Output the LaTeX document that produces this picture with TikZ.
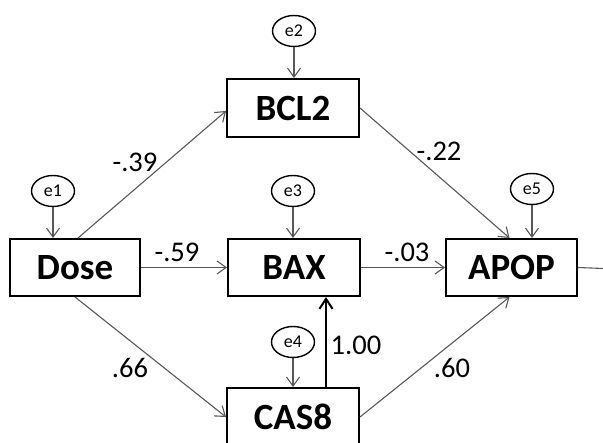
\documentclass[tikz,border=0pt]{standalone}
\usepackage{fontspec}
\setmainfont{Carlito}
\usetikzlibrary{arrows.meta,calc,shapes.geometric}
\definecolor{pathgray}{HTML}{585858}
\begin{document}
\begin{tikzpicture}[x=1pt,y=-1pt,
  varbox/.style={draw=black,line width=2pt,minimum width=131pt,minimum height=57pt,inner sep=0pt,font=\fontsize{37}{42}\selectfont\bfseries},
  errnode/.style={draw=black,line width=1.4pt,ellipse,minimum width=43pt,minimum height=31pt,inner sep=0pt,font=\fontsize{18}{21}\selectfont},
  edgearrow/.style={draw=pathgray,line width=1.1pt,-{Straight Barb[length=9pt,width=13pt]}},
  edgeplain/.style={draw=pathgray,line width=1.1pt},
  thickarrow/.style={draw=black,line width=2pt,-{Straight Barb[length=10pt,width=13pt]}},
  coeflabel/.style={font=\fontsize{28.5}{31}\selectfont,anchor=base,inner sep=0pt},
]
\useasboundingbox (0,0) rectangle (603,443);

% variable boxes
\node[varbox,minimum width=130pt] (Dose) at (75,267.5) {\raisebox{-2pt}{Dose}};
\node[varbox,minimum width=132pt,minimum height=58pt] (BCL2) at (293,108) {\raisebox{-2pt}{BCL2}};
\node[varbox,minimum width=132pt] (BAX) at (294,267.5) {\raisebox{-2pt}{BAX}};
\node[varbox] (APOP) at (511.5,267.5) {\raisebox{-2pt}{APOP}};
\node[varbox,minimum width=132pt,minimum height=58pt] (CAS8) at (293,417) {\raisebox{-2pt}{CAS8}};

% error terms
\node[errnode] (e1) at (53,191) {\raisebox{-1.5pt}{e1}};
\node[errnode] (e2) at (294,31) {\raisebox{-1.5pt}{e2}};
\node[errnode] (e3) at (293,191) {\raisebox{-1.5pt}{e3}};
\node[errnode] (e4) at (293,342) {\raisebox{-1.5pt}{e4}};
\node[errnode] (e5) at (532,189) {\raisebox{-1.5pt}{e5}};

\draw[edgearrow] (e1.south) -- (e1.south |- Dose.north);
\draw[edgearrow] (e2.south) -- (e2.south |- BCL2.north);
\draw[edgearrow] (e3.south) -- (e3.south |- BAX.north);
\draw[edgearrow] (e4.south) -- (e4.south |- CAS8.north);
\draw[edgearrow] (e5.south) -- (e5.south |- APOP.north);

% paths
\draw[edgearrow] ($(Dose.north)+(3,0)$) -- ($(BCL2.west)+(0,3)$);
\draw[edgearrow] (Dose.east) -- (BAX.west);
\draw[edgearrow] (Dose.south) -- (CAS8.west);
\draw[edgearrow] (BCL2.east) -- ($(APOP.north)+(-2,0)$);
\draw[edgearrow] (BAX.east) -- (APOP.west);
\draw[edgearrow] (CAS8.east) -- ($(APOP.south)+(-2,0)$);

\coordinate (c8top) at ($(CAS8.north)+(33,0)$);
\draw[thickarrow] (c8top) -- (c8top |- BAX.south);

\coordinate (outend) at (603,268.5);
\draw[edgeplain] (APOP.east) -- (outend);

% coefficients
\node[coeflabel] (l39) at (135,172) {-.39};
\node[coeflabel] (l59) at (177,262) {-.59};
\node[coeflabel] (l03) at (407,262) {-.03};
\node[coeflabel] (l22) at (439,161) {-.22};
\node[coeflabel] (l66) at (130,378) {.66};
\node[coeflabel] (l60) at (452,378) {.60};
\node[coeflabel] (l100) at (356,355) {1.00};
\end{tikzpicture}
\end{document}
